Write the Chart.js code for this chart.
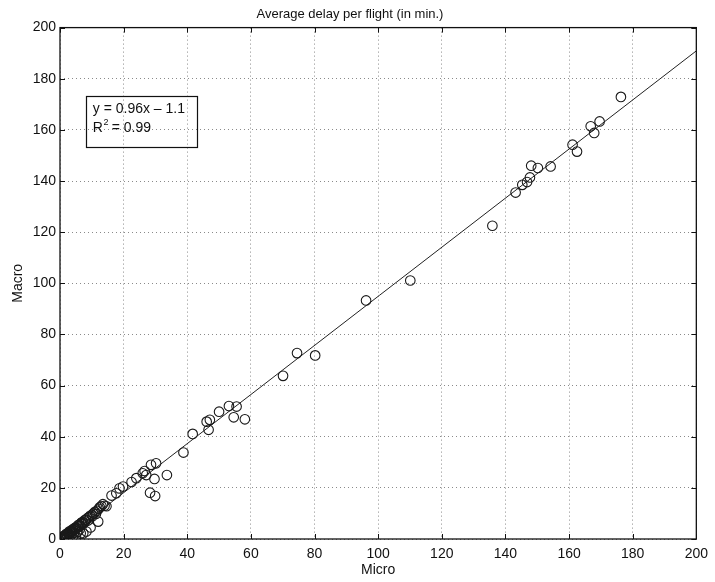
<!DOCTYPE html>
<html>
<head>
<meta charset="utf-8">
<script src="https://cdn.jsdelivr.net/npm/chart.js@4.4.1/dist/chart.umd.min.js"></script>
<style>
  html, body { margin: 0; padding: 0; background: #fff; }
  #wrap { width: 715px; height: 582px; }
</style>
</head>
<body>
<div id="wrap"><canvas id="delayChart" width="715" height="582"></canvas></div>
<script>
// Valores (atraso médio por voo, em minutos)
const microValues = [
  176.3, 169.6, 166.8, 167.9, 161.1, 162.5, 154.2, 148.1, 150.2, 147.7, 146.8, 145.3, 143.2, 135.9,
  110.1, 96.2, 80.2, 74.5, 70.1,
  58.1, 55.5, 54.6, 53.1, 50.0, 47.1, 46.1, 46.7, 41.7, 38.8, 33.6, 30.2, 28.6, 29.7, 29.9, 28.3,
  27.1, 26.6, 26.0, 24.0, 22.5, 19.8, 18.7, 17.7, 16.2, 13.0, 12.5, 12.0,
  0.3, 0.5, 0.8, 1.0, 1.2, 1.5, 1.8, 2.0, 2.2, 2.5, 2.8, 3.0, 3.2, 3.5, 3.8, 4.0, 4.3, 4.6, 5.0,
  5.3, 5.6, 6.0, 6.3, 6.7, 7.0, 7.4, 7.8, 8.2, 8.6, 9.0, 9.5, 10.0, 10.5, 11.0, 11.6, 12.2, 13.5,
  14.0, 14.6, 3.0, 5.0, 6.5, 8.3, 9.6, 2.0, 4.0, 7.3,
  1.4, 2.6, 3.6, 4.8, 5.8, 6.9, 7.9, 8.8, 10.2, 11.3, 1.0, 2.4, 4.4, 6.2, 0.6, 1.9, 3.3, 5.5
];
const macroValues = [
  172.9, 163.3, 161.4, 158.8, 154.2, 151.5, 145.7, 146.0, 145.1, 141.4, 139.6, 138.5, 135.5, 122.5,
  101.1, 93.3, 71.8, 72.7, 63.8,
  46.8, 51.8, 47.6, 52.0, 49.8, 46.6, 45.9, 42.7, 41.1, 33.8, 25.0, 29.6, 29.0, 23.5, 16.8, 18.1,
  25.0, 26.6, 25.7, 23.8, 22.3, 20.5, 19.8, 17.9, 17.0, 12.9, 12.4, 6.8,
  0.2, 0.6, 0.4, 1.0, 0.7, 1.4, 1.2, 2.0, 1.6, 2.3, 2.1, 3.0, 2.5, 3.2, 2.9, 3.8, 3.4, 4.3, 4.6,
  4.2, 5.3, 5.6, 5.1, 6.3, 6.6, 6.1, 7.4, 7.6, 8.1, 8.5, 9.1, 9.4, 10.0, 10.6, 11.0, 11.8, 13.6,
  13.0, 12.8, 0.6, 1.0, 2.2, 2.9, 4.5, 0.2, 0.8, 2.2,
  0.9, 1.9, 2.8, 3.9, 4.8, 5.9, 6.8, 7.2, 8.9, 9.8, 0.2, 0.9, 2.4, 3.8, 0.1, 0.5, 1.4, 2.8
];
const axisTicks = [0, 20, 40, 60, 80, 100, 120, 140, 160, 180, 200];
const fitSlope = 0.96;
const fitIntercept = -1.1;
const fitR2 = 0.99;

const FONT = '"Liberation Sans", Arial, Helvetica, sans-serif';

const points = microValues.map((x, i) => ({ x: x, y: macroValues[i] }));
const fitLine = [0, 200].map(x => ({ x: x, y: fitSlope * x + fitIntercept }));

// Moldura, marcas internas e caixa da equação (estilo MATLAB)
const moldura = {
  id: 'moldura',
  afterDatasetsDraw(chart) {
    const { ctx, chartArea: a, scales } = chart;
    ctx.save();
    ctx.strokeStyle = '#111';
    ctx.lineWidth = 1.3;
    ctx.strokeRect(a.left, a.top, a.right - a.left, a.bottom - a.top);

    ctx.lineWidth = 1;
    ctx.beginPath();
    axisTicks.forEach(v => {
      const px = Math.round(scales.x.getPixelForValue(v)) + 0.5;
      const py = Math.round(scales.y.getPixelForValue(v)) + 0.5;
      ctx.moveTo(px, a.bottom); ctx.lineTo(px, a.bottom - 5);
      ctx.moveTo(px, a.top); ctx.lineTo(px, a.top + 5);
      ctx.moveTo(a.left, py); ctx.lineTo(a.left + 5, py);
      ctx.moveTo(a.right, py); ctx.lineTo(a.right - 5, py);
    });
    ctx.stroke();

    // caixa da equação
    const bx0 = scales.x.getPixelForValue(8.1);
    const bx1 = scales.x.getPixelForValue(43.1);
    const by0 = scales.y.getPixelForValue(173.4);
    const by1 = scales.y.getPixelForValue(153.4);
    ctx.lineWidth = 1.2;
    ctx.strokeRect(Math.round(bx0) + 0.5, Math.round(by0) + 0.5, Math.round(bx1 - bx0), Math.round(by1 - by0));

    ctx.fillStyle = '#111';
    ctx.textBaseline = 'middle';
    ctx.textAlign = 'left';
    ctx.font = '14px ' + FONT;
    const sinal = fitIntercept < 0 ? '\u2013' : '+';
    ctx.fillText('y = ' + fitSlope + 'x ' + sinal + ' ' + Math.abs(fitIntercept), bx0 + 7, by0 + 14);
    ctx.fillText('R', bx0 + 7, by0 + 33);
    const rw = ctx.measureText('R').width;
    ctx.font = '9px ' + FONT;
    ctx.fillText('2', bx0 + 7 + rw + 0.5, by0 + 27);
    ctx.font = '14px ' + FONT;
    ctx.fillText(' = ' + fitR2, bx0 + 7 + rw + 5, by0 + 33);
    ctx.restore();
  }
};

const ctx = document.getElementById('delayChart').getContext('2d');
new Chart(ctx, {
  type: 'scatter',
  data: {
    datasets: [
      {
        label: 'Voos',
        data: points,
        pointStyle: 'circle',
        pointRadius: 4.8,
        borderColor: '#1a1a1a',
        backgroundColor: 'rgba(0,0,0,0)',
        pointBorderWidth: 1.1,
        showLine: false
      },
      {
        type: 'line',
        label: 'Ajuste',
        data: fitLine,
        borderColor: '#222',
        borderWidth: 1,
        pointRadius: 0,
        fill: false,
        tension: 0
      }
    ]
  },
  options: {
    responsive: false,
    animation: false,
    layout: { padding: { left: 0, right: 15, top: 0, bottom: 0 } },
    plugins: {
      legend: { display: false },
      tooltip: { enabled: false },
      title: {
        display: true,
        text: 'Average delay per flight (in min.)',
        color: '#111',
        font: { family: FONT, size: 13, weight: 'normal' },
        padding: { top: 7, bottom: 5 }
      }
    },
    scales: {
      x: {
        type: 'linear',
        min: 0,
        max: 200,
        afterBuildTicks: (scale) => { scale.ticks = axisTicks.map(v => ({ value: v })); },
        afterFit: (scale) => { scale.height = 43; },
        ticks: { color: '#111', font: { family: FONT, size: 14 }, padding: 7, maxRotation: 0 },
        grid: { color: '#8a8a8a', lineWidth: 1, drawTicks: false },
        border: { display: false, dash: [1, 3] },
        title: {
          display: true,
          text: 'Micro',
          color: '#111',
          font: { family: FONT, size: 14 },
          padding: { top: 0, bottom: 3 }
        }
      },
      y: {
        type: 'linear',
        min: 0,
        max: 200,
        afterBuildTicks: (scale) => { scale.ticks = axisTicks.map(v => ({ value: v })); },
        afterFit: (scale) => { scale.width = 60; },
        ticks: { color: '#111', font: { family: FONT, size: 14 }, padding: 4 },
        grid: { color: '#8a8a8a', lineWidth: 1, drawTicks: false },
        border: { display: false, dash: [1, 3] },
        title: {
          display: true,
          text: 'Macro',
          color: '#111',
          font: { family: FONT, size: 14 },
          padding: { top: 10, bottom: 0 }
        }
      }
    }
  },
  plugins: [moldura]
});
</script>
</body>
</html>
